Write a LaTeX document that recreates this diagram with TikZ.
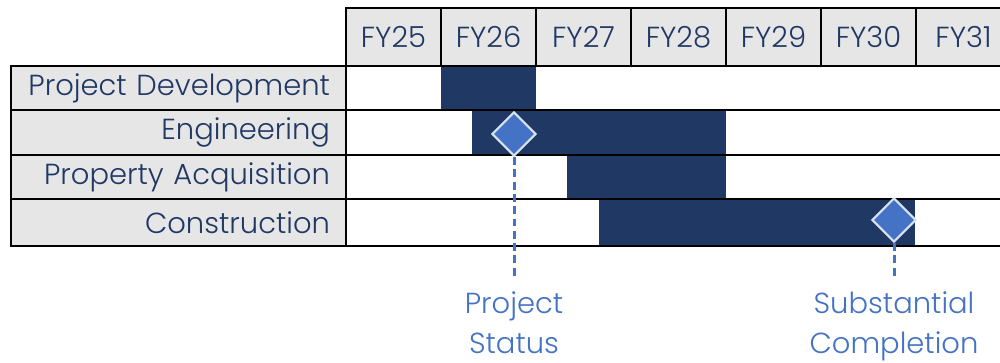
\documentclass[tikz,border=0pt]{standalone}
\usepackage{fontspec}
\setmainfont{Poppins}[UprightFont=* Light]
\usetikzlibrary{shapes.geometric}
\definecolor{navy}{HTML}{203864}
\definecolor{cellgray}{HTML}{E7E6E6}
\definecolor{msblue}{HTML}{4472C4}
\definecolor{msedge}{HTML}{DAE3F3}

\begin{document}
\begin{tikzpicture}[x=0.02cm, y=-0.02cm,
  gridline/.style={black, line width=1.2pt},
  hdrcell/.style={draw=black, line width=1.2pt, fill=cellgray, text=navy, minimum width=1.9cm, minimum height=1.16cm, inner sep=0pt, font=\fontsize{16.5}{19}\selectfont},
  taskcell/.style={draw=black, line width=1.2pt, fill=cellgray, text=navy, text width=6.06cm, inner xsep=0.32cm, inner ysep=0pt, align=right, font=\fontsize{16.5}{19}\selectfont},
  milestone/.style={diamond, aspect=1, fill=msblue, draw=msedge, line width=1.2pt, minimum size=0.88cm, inner sep=0pt},
  leader/.style={msblue, line width=1.7pt, dash pattern=on 4.5pt off 2.5pt},
  mslabel/.style={text=msblue, align=center, font=\fontsize{16.5}{22.8}\selectfont}]
\useasboundingbox[fill=white] (0,0) rectangle (1000,362);

%the bars
\fill[navy] (441,66) rectangle (536,110);
\fill[navy] (472,110) rectangle (726,155);
\fill[navy] (567,155) rectangle (726,199);
\fill[navy] (599,199) rectangle (915,246);

%the grid
\foreach \y in {110,155,199,246}
  \draw[gridline] (346,\y) -- (1000,\y);

%the tasks
\node[taskcell, minimum height=0.88cm] (dev) at (178.5,88) {Project Development};
\node[taskcell, minimum height=0.9cm] (eng) at (178.5,132.5) {Engineering};
\node[taskcell, minimum height=0.88cm] (acq) at (178.5,177) {Property Acquisition};
\node[taskcell, minimum height=0.94cm] (con) at (178.5,222.5) {Construction};

%the years
\foreach \yr [count=\i from 0] in {25,...,31}
  \node[hdrcell] (fy\yr) at ({393.5+95*\i},37) {FY\yr};

%the milestones
\node[milestone] (ps) at (514,134) {};
\node[milestone] (sc) at (894,220) {};
\coordinate (psend) at (514,277);
\coordinate (scend) at (894,277);
\draw[leader] (ps.south) -- (psend);
\draw[leader] (sc.south) -- (scend);
\node[mslabel] (pslbl) at (514,323) {Project\\Status};
\node[mslabel] (sclbl) at (894,326) {Substantial\\Completion};
\end{tikzpicture}
\end{document}
